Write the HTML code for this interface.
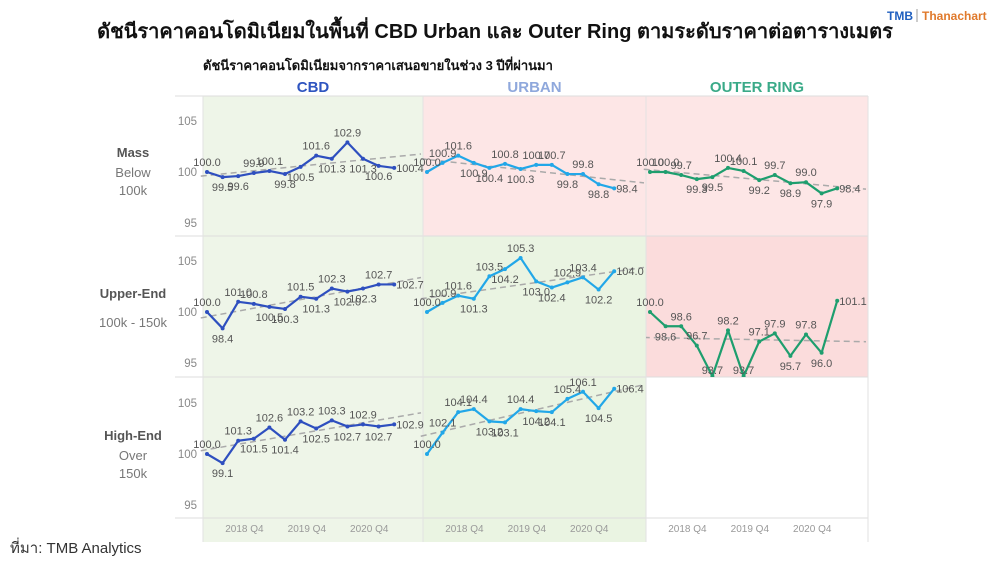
<!DOCTYPE html>
<html><head><meta charset="utf-8">
<style>
body{margin:0;background:#fff;width:1000px;height:563px;overflow:hidden;font-family:"Liberation Sans","Noto Sans CJK SC",sans-serif;}
svg text{font-family:"Liberation Sans","Noto Sans CJK SC",sans-serif;}
</style></head>
<body>
<svg id="c" width="1000" height="563" viewBox="0 0 1000 563">
<text x="495" y="38" text-anchor="middle" font-size="20" font-weight="bold" fill="#111">ดัชนีราคาคอนโดมิเนียมในพื้นที่ CBD Urban และ Outer Ring ตามระดับราคาต่อตารางเมตร</text>
<text x="887" y="20" font-size="12" font-weight="bold" fill="#1f5fbf">TMB</text>
<line x1="917" y1="9" x2="917" y2="22" stroke="#999"/>
<text x="922" y="20" font-size="12" font-weight="bold" fill="#e07a2c">Thanachart</text>
<text x="203" y="70" font-size="13" font-weight="bold" fill="#111">ดัชนีราคาคอนโดมิเนียมจากราคาเสนอขายในช่วง 3 ปีที่ผ่านมา</text>
<text x="10" y="553" font-size="15" fill="#333">ที่มา: TMB Analytics</text>
<defs><clipPath id="clipOU"><rect x="646" y="236" width="222" height="141"/></clipPath></defs>
<g id="g"></g>
</svg>
<script>
const segments = ["CBD","URBAN","OUTER RING"];
const tiers = ["Mass","Upper-End","High-End"];
const xTickLabels = ["2018 Q4","2019 Q4","2020 Q4"];
const yTicks = [95,100,105];
const cbdMass = [100.0,99.5,99.6,99.9,100.1,99.8,100.5,101.6,101.3,102.9,101.3,100.6,100.4];
const urbanMass = [100.0,100.9,101.6,100.9,100.4,100.8,100.3,100.7,100.7,99.8,99.8,98.8,98.4];
const outerMass = [100.0,100.0,99.7,99.3,99.5,100.4,100.1,99.2,99.7,98.9,99.0,97.9,98.4];
const cbdUpper = [100.0,98.4,101.0,100.8,100.5,100.3,101.5,101.3,102.3,102.0,102.3,102.7,102.7];
const urbanUpper = [100.0,100.9,101.6,101.3,103.5,104.2,105.3,103.0,102.4,102.9,103.4,102.2,104.0];
const outerUpper = [100.0,98.6,98.6,96.7,93.7,98.2,93.7,97.1,97.9,95.7,97.8,96.0,101.1];
const cbdHigh = [100.0,99.1,101.3,101.5,102.6,101.4,103.2,102.5,103.3,102.7,102.9,102.7,102.9];
const urbanHigh = [100.0,102.1,104.1,104.4,103.2,103.1,104.4,104.2,104.1,105.4,106.1,104.5,106.4];
const grid = [[cbdMass,urbanMass,outerMass],[cbdUpper,urbanUpper,outerUpper],[cbdHigh,urbanHigh,null]];

const NS="http://www.w3.org/2000/svg";
const G=document.getElementById('g');
function mk(t,a,p){const e=document.createElementNS(NS,t);for(const k in a)e.setAttribute(k,a[k]);(p||G).appendChild(e);return e;}
const colX=[203,423,646], colW=[220,223,222];
const rowTop=[96,236,377], rowH=[140,141,141], base100=[172,312,454];
const unit=10.2;
const lineCol=["#2e4fbf","#22a7e8","#1e9e6e"];
const headCol=["#2f55c0","#8fa8dc","#3aaa88"];
const bg=[["#eef5e8","#fde6e6","#fde6e6"],["#eef5e8","#eaf4e2","#fbdcdc"],["#eef5e8","#eaf4e2","#ffffff"]];
function xs(c,i){return colX[c]+4+i*15.6;}
function ys(r,v){return base100[r]-(v-100)*unit;}

for(let r=0;r<3;r++)for(let c=0;c<3;c++){
  const h = r===2 ? 165 : rowH[r];
  const e=mk('rect',{x:colX[c],y:rowTop[r],width:colW[c],height:h,fill:bg[r][c]});
  
  
}
[96,236,377,518].forEach((y,i)=>{const e=mk('line',{x1:175,y1:y,x2:868,y2:y,stroke:"#ddd","stroke-width":1});
});
[203,423,646,868].forEach(x=>{const e=mk('line',{x1:x,y1:96,x2:x,y2:542,stroke:"#e2e2e2","stroke-width":1});
});
segments.forEach((s,c)=>{const e=mk('text',{x:colX[c]+colW[c]/2,y:92,"text-anchor":"middle","font-size":15,"font-weight":"bold",fill:headCol[c]});e.textContent=s;
});
const sub=[["Below","100k"],["100k - 150k"],["Over","150k"]];
const labY=[157,298,440];
tiers.forEach((t,r)=>{let e=mk('text',{x:133,y:labY[r],"text-anchor":"middle","font-size":13,"font-weight":"bold",fill:"#555"});e.textContent=t;

sub[r].forEach((s,k)=>{const dy = r===1?29:20+k*18;const f=mk('text',{x:133,y:labY[r]+dy,"text-anchor":"middle","font-size":13,fill:"#777"});f.textContent=s;
});
yTicks.forEach(v=>{const f=mk('text',{x:197,y:ys(r,v)+4,"text-anchor":"end","font-size":11.5,fill:"#888"});f.textContent=v;
});
});
for(let c=0;c<3;c++)xTickLabels.forEach((t,k)=>{const e=mk('text',{x:xs(c,2.4+k*4),y:532,"text-anchor":"middle","font-size":10,fill:"#999"});e.textContent=t;
});
for(let r=0;r<3;r++)for(let c=0;c<3;c++){
  const d=grid[r][c]; if(!d)continue;
  const grp=mk('g',{});
  if(r===1&&c===2)grp.setAttribute('clip-path','url(#clipOU)');
  
  
  const n=d.length; let sx=0,sy=0,sxy=0,sxx=0;
  d.forEach((v,i)=>{sx+=i;sy+=v;sxy+=i*v;sxx+=i*i;});
  const b=(n*sxy-sx*sy)/(n*sxx-sx*sx), a=(sy-b*sx)/n;
  const i0=-0.4,i1=(colW[c]-6)/15.6;
  const tl=mk('line',{x1:xs(c,i0),y1:ys(r,a+b*i0),x2:xs(c,i1),y2:ys(r,a+b*i1),stroke:"#aaa","stroke-width":1.5,"stroke-dasharray":"6 4"},grp);
  
  const pl=mk('polyline',{points:d.map((v,i)=>xs(c,i)+','+ys(r,v)).join(' '),fill:"none",stroke:lineCol[c],"stroke-width":2.2,"stroke-linejoin":"round"},grp);
  
  d.forEach((v,i)=>{
    const p=mk('circle',{cx:xs(c,i),cy:ys(r,v),r:2,fill:lineCol[c]},grp);
    
    const prev=i>0?d[i-1]:v, next=i<n-1?d[i+1]:v;
    const up = i===0 ? true : v>=(prev+next)/2;
    let ly=ys(r,v)+(i===n-1?4:(up?-6:14));
    ly=Math.min(ly,rowTop[r]+rowH[r]-3);
    const t=mk('text',{x:i===n-1?xs(c,i)+2:xs(c,i),y:ly,"text-anchor":i===n-1?"start":"middle","font-size":11,fill:"#555"});
    t.textContent=v.toFixed(1);
    
  });
}
</script>
</body></html>
